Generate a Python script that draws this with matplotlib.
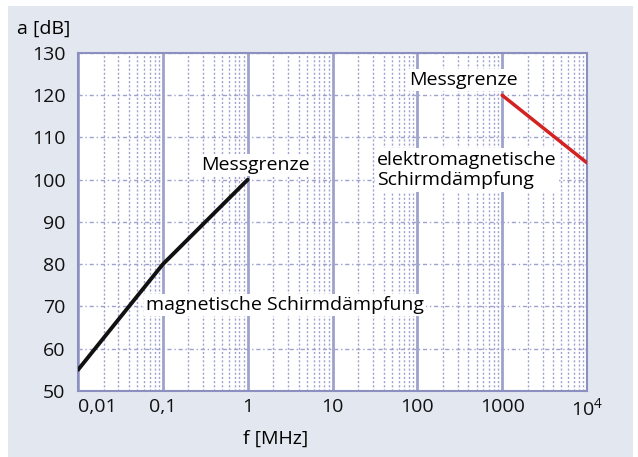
import matplotlib
matplotlib.use("Agg")
import matplotlib.pyplot as plt
from matplotlib.patches import Rectangle
from matplotlib.ticker import FixedLocator, NullFormatter

plt.rcParams['font.family'] = ['Open Sans', 'DejaVu Sans']
plt.rcParams['mathtext.fontset'] = 'custom'
plt.rcParams['mathtext.rm'] = 'Open Sans'

# data
mag_f = [0.01, 0.1, 1]
mag_a = [55, 80, 100]
em_f = [1000, 10000]
em_a = [120, 104]

x_ticks = [0.01, 0.1, 1, 10, 100, 1000, 10000]
x_labels = ["0,01", "0,1", "1", "10", "100", "1000", "10$^4$"]
y_ticks = [50, 60, 70, 80, 90, 100, 110, 120, 130]

W, H = 638, 457
fs = 14
fig = plt.figure(figsize=(W / 100, H / 100), dpi=100)
fig.patch.set_facecolor("white")
fig.patches.append(Rectangle((8 / W, 0), 625 / W, 451 / H, transform=fig.transFigure,
                             facecolor="#e3e7ef", edgecolor="none", zorder=-1))

ax = fig.add_axes([78 / W, 1 - 391 / H, 509 / W, 338 / H])
ax.set_facecolor("white")
ax.set_xscale("log")
ax.set_xlim(0.01, 10000)
ax.set_ylim(50, 130)

gcol = "#9ea2cc"
ax.xaxis.set_minor_locator(FixedLocator([m * 10.0 ** e for e in range(-2, 4) for m in range(2, 10)]))
ax.xaxis.set_minor_formatter(NullFormatter())
ax.grid(True, which="minor", axis="x", color=gcol, linestyle=(0, (1.5, 1.5)), linewidth=1.0)
ax.grid(True, which="major", axis="x", color=gcol, linestyle="-", linewidth=2.0)
ax.grid(True, which="major", axis="y", color=gcol, linestyle=(0, (3, 2, 1, 2)), linewidth=1.0)

ax.set_xticks(x_ticks)
ax.set_xticklabels(x_labels)
ax.set_yticks(y_ticks)
ax.tick_params(which="both", length=0, labelsize=fs, colors="#111111")
ax.tick_params(axis="y", pad=9)
ax.tick_params(axis="x", pad=5)
ax.get_xticklabels()[0].set_ha("left")
for s in ax.spines.values():
    s.set_color("#8c90c0")
    s.set_linewidth(1.5)

ax.plot(mag_f, mag_a, color="#111111", linewidth=2.8, solid_capstyle="round", zorder=3)
ax.plot(em_f, em_a, color="#d42222", linewidth=2.5, solid_capstyle="round", zorder=3)

box = dict(facecolor="white", edgecolor="none", pad=1.5)
ax.text(0.28, 103.5, "Messgrenze", fontsize=fs, ha="left", va="center", bbox=box, zorder=4)
ax.text(0.063, 70.4, "magnetische Schirmdämpfung", fontsize=fs, ha="left", va="center", bbox=box, zorder=4)
ax.text(80, 123.6, "Messgrenze", fontsize=fs, ha="left", va="center", bbox=box, zorder=4)
ax.text(33.5, 102.3, "elektromagnetische\nSchirmdämpfung", fontsize=fs, ha="left", va="center",
        linespacing=1.2, bbox=box, zorder=4)

fig.text(17 / W, 1 - 29 / H, "a [dB]", fontsize=fs, ha="left", va="center")
fig.text(276 / W, 1 - 439 / H, "f [MHz]", fontsize=fs, ha="center", va="center")

fig.savefig("out.png", dpi=100)
